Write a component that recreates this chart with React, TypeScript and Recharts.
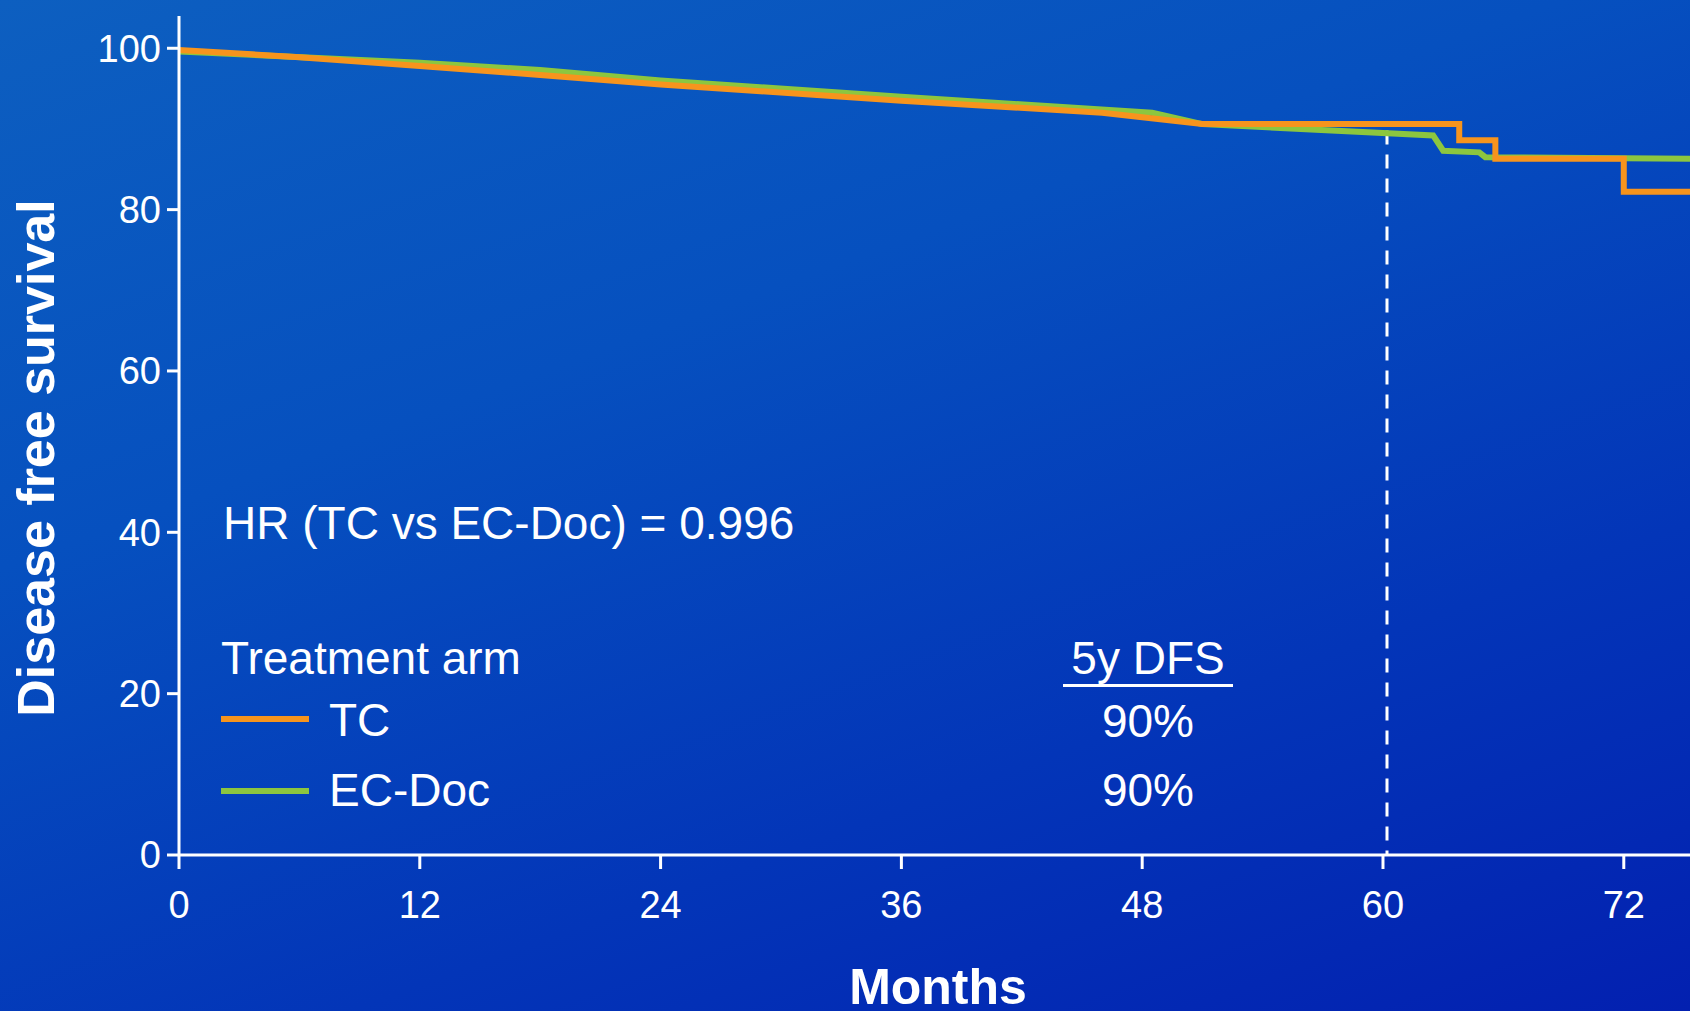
import React from "react";
import { LineChart, Line, XAxis, YAxis } from "recharts";

const tcPoints = [
  [0, 99.8], [6, 98.9], [12, 97.8], [18, 96.7], [24, 95.5], [36, 93.5], [46, 92.0], [51, 90.6],
  [63.8, 90.6], [63.8, 88.6], [65.6, 88.6], [65.6, 86.3], [72, 86.3], [72, 82.2], [76, 82.2],
];
const ecPoints = [
  [0, 99.6], [12, 98.2], [18, 97.3], [24, 96.0], [36, 94.0], [48.5, 92.0], [51, 90.6],
  [62.5, 89.2], [63.0, 87.3], [64.8, 87.1], [65.1, 86.5], [76, 86.3],
];
const markerPoints = [[60.2, 89.8], [60.2, 0]];
const xTicks = [0, 12, 24, 36, 48, 60, 72];
const yTicks = [0, 20, 40, 60, 80, 100];

const toRows = (pts: number[][]) => pts.map(([m, s]) => ({ m, s }));

const W = 1690;
const H = 1011;
const font = "'Liberation Sans', Arial, sans-serif";

export default function App() {
  const txt = (style: React.CSSProperties, children: React.ReactNode) => (
    <div style={{ position: "absolute", color: "#fff", fontFamily: font, whiteSpace: "nowrap", ...style }}>{children}</div>
  );
  return (
    <div style={{ position: "fixed", left: 0, top: 0, width: W, height: H, overflow: "hidden",
      background: "linear-gradient(160deg, #0d5fc0 0%, #0650bf 35%, #0335b8 70%, #0320b0 100%)" }}>
      <LineChart width={W} height={H} margin={{ top: 16, right: 0, bottom: 126, left: 0 }}>
        <XAxis type="number" dataKey="m" domain={[0, 75.3]} ticks={xTicks} allowDataOverflow
          stroke="#fff" strokeWidth={3} tickSize={14} tick={{ fill: "#fff", fontSize: 38, fontFamily: font, dy: 20 }} />
        <YAxis type="number" dataKey="s" domain={[0, 104]} ticks={yTicks} width={179}
          stroke="#fff" strokeWidth={3} tickSize={12} tick={{ fill: "#fff", fontSize: 38, fontFamily: font, dx: -4 }} />
        <Line data={toRows(markerPoints)} dataKey="s" type="linear" stroke="#fff" strokeWidth={3}
          strokeDasharray="14 10" dot={false} isAnimationActive={false} />
        <Line data={toRows(ecPoints)} dataKey="s" type="linear" stroke="#8cc63f" strokeWidth={6}
          dot={false} isAnimationActive={false} />
        <Line data={toRows(tcPoints)} dataKey="s" type="linear" stroke="#f7941d" strokeWidth={6}
          dot={false} isAnimationActive={false} />
      </LineChart>
      {txt({ left: 223, top: 496, fontSize: 46 }, "HR (TC vs EC-Doc) = 0.996")}
      {txt({ left: 221, top: 631, fontSize: 46 }, "Treatment arm")}
      <div style={{ position: "absolute", left: 221, top: 716, width: 88, height: 6, background: "#f7941d" }} />
      {txt({ left: 329, top: 693, fontSize: 46 }, "TC")}
      <div style={{ position: "absolute", left: 221, top: 788, width: 88, height: 6, background: "#8cc63f" }} />
      {txt({ left: 329, top: 763, fontSize: 46 }, "EC-Doc")}
      {txt({ left: 1063, width: 170, textAlign: "center", top: 631, fontSize: 46 }, "5y DFS")}
      <div style={{ position: "absolute", left: 1063, top: 684, width: 170, height: 3, background: "#fff" }} />
      {txt({ left: 1063, width: 170, textAlign: "center", top: 694, fontSize: 46 }, "90%")}
      {txt({ left: 1063, width: 170, textAlign: "center", top: 763, fontSize: 46 }, "90%")}
      {txt({ left: 738, width: 400, textAlign: "center", top: 958, fontSize: 50, fontWeight: "bold" }, "Months")}
      {txt({ left: 36, top: 458, fontSize: 52, fontWeight: "bold", transform: "translate(-50%, -50%) rotate(-90deg)" }, "Disease free survival")}
    </div>
  );
}
